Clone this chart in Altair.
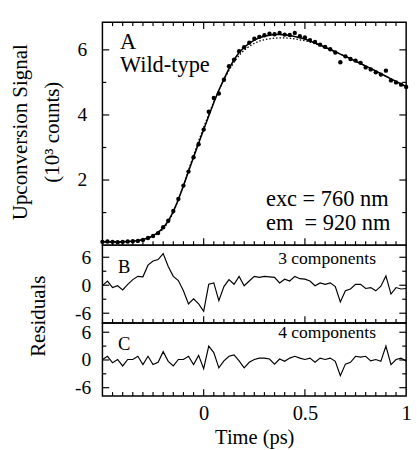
import altair as alt
import pandas as pd

FONT = "Liberation Serif, Times New Roman, Times, serif"

# ---------------- data ----------------
time_ps = [-0.5, -0.475, -0.45, -0.425, -0.4, -0.375, -0.35, -0.325, -0.3, -0.275,
           -0.25, -0.225, -0.2, -0.175, -0.15, -0.125, -0.1, -0.075, -0.05, -0.025,
           0.0, 0.025, 0.05, 0.075, 0.1, 0.125, 0.15, 0.175, 0.2, 0.225,
           0.25, 0.275, 0.3, 0.325, 0.35, 0.375, 0.4, 0.425, 0.45, 0.475,
           0.5, 0.525, 0.55, 0.575, 0.6, 0.625, 0.65, 0.675, 0.7, 0.725,
           0.75, 0.775, 0.8, 0.825, 0.85, 0.875, 0.9, 0.925, 0.95, 0.975, 1.0]

signal = [0.10, 0.11, 0.10, 0.09, 0.10, 0.11, 0.12, 0.13, 0.16, 0.22,
          0.28, 0.37, 0.55, 0.75, 1.05, 1.42, 1.83, 2.26, 2.70, 3.10,
          3.55, 4.10, 4.52, 4.66, 5.08, 5.50, 5.70, 5.96, 6.08, 6.22,
          6.34, 6.40, 6.45, 6.50, 6.48, 6.52, 6.47, 6.46, 6.52, 6.42,
          6.38, 6.30, 6.24, 6.16, 6.09, 6.02, 5.92, 5.62, 5.80, 5.72,
          5.67, 5.60, 5.46, 5.40, 5.31, 5.24, 5.36, 5.06, 5.00, 4.93, 4.86]

fit_4comp = [0.10, 0.10, 0.10, 0.10, 0.10, 0.11, 0.12, 0.14, 0.17, 0.22,
             0.29, 0.39, 0.53, 0.74, 1.03, 1.40, 1.82, 2.26, 2.70, 3.13,
             3.55, 3.97, 4.38, 4.76, 5.10, 5.42, 5.70, 5.92, 6.08, 6.20,
             6.30, 6.37, 6.42, 6.45, 6.47, 6.47, 6.46, 6.44, 6.41, 6.37,
             6.33, 6.27, 6.21, 6.15, 6.08, 6.01, 5.94, 5.87, 5.80, 5.73,
             5.65, 5.58, 5.50, 5.43, 5.35, 5.27, 5.19, 5.11, 5.03, 4.95, 4.87]

fit_3comp = [0.10, 0.10, 0.10, 0.10, 0.10, 0.11, 0.12, 0.13, 0.16, 0.20,
             0.27, 0.36, 0.49, 0.70, 1.00, 1.38, 1.83, 2.30, 2.76, 3.20,
             3.62, 4.02, 4.40, 4.76, 5.08, 5.37, 5.62, 5.83, 5.99, 6.11,
             6.20, 6.27, 6.31, 6.34, 6.36, 6.37, 6.37, 6.36, 6.34, 6.31,
             6.28, 6.24, 6.19, 6.13, 6.07, 6.01, 5.94, 5.87, 5.80, 5.73,
             5.65, 5.58, 5.50, 5.43, 5.35, 5.27, 5.19, 5.11, 5.03, 4.95, 4.87]

resid_3comp = [-0.1, 0.9, -0.5, -0.1, -1.0, 0.2, 1.2, 1.9, 1.8, 4.3,
               5.2, 5.5, 6.8, 4.0, 1.9, 1.0, -1.2, -4.0, -2.9, -4.0,
               -5.6, 0.2, 0.5, -3.3, -0.3, 1.2, 0.2, 1.9, -0.1, 0.9,
               1.9, 1.7, 1.9, 1.8, 1.7, 0.5, 1.3, 0.9, 1.9, 1.4,
               1.3, 0.9, -0.1, 0.5, 0.2, 0.5, -0.3, -3.6, -1.2, -0.8,
               0.2, 0.2, -0.7, -0.5, -1.2, -0.2, 2.0, -1.9, -0.5, -0.8, -0.7]

resid_4comp = [0.1, 0.8, -0.6, 0.1, -1.3, 0.1, 0.1, 0.8, -1.0, 0.8,
               -1.0, -0.5, 1.8, -0.3, -1.3, 0.1, 0.1, 0.8, -1.0, 1.0,
               -1.9, 3.0, 1.6, -1.7, -0.2, 0.8, 1.1, -0.2, -1.7, -0.5,
               0.1, 0.4, 0.4, 0.2, -0.9, 0.2, -0.3, 0.4, 0.8, 0.4,
               0.1, 0.4, -0.5, 0.4, 0.1, 0.4, -0.3, -3.4, -0.9, -0.5,
               0.8, 0.6, 0.8, -0.2, 0.1, -0.3, 3.0, -1.0, 0.1, 0.4, -0.3]

# axis tick values / labels
x_label_values = [0, 0.5, 1]
x_major_ticks = [0.0, 0.5]
x_minor_ticks = [-0.45, -0.4, -0.35, -0.3, -0.25, -0.2, -0.15, -0.1, -0.05,
                 0.05, 0.1, 0.15, 0.2, 0.25, 0.3, 0.35, 0.4, 0.45,
                 0.55, 0.6, 0.65, 0.7, 0.75, 0.8, 0.85, 0.9, 0.95]
a_major_y = [2, 4, 6]
a_minor_y = [1, 3, 5]
res_major_y = [-6, 0, 6]
res_minor_y = [-3, 3]

df = pd.DataFrame({"t": time_ps, "signal": signal, "fit4": fit_4comp,
                   "fit3": fit_3comp, "r3": resid_3comp, "r4": resid_4comp})

# ---------------- layout ----------------
W = 312
H_A, H_B, H_C = 229, 80, 75
TICK_MINOR, TICK_MAJOR = 4, 7

xs = alt.Scale(domain=[-0.5, 1.0], nice=False, zero=False)
ys_a = alt.Scale(domain=[0, 6.85], nice=False, zero=False)
ys_b = alt.Scale(domain=[-8.1, 8.6], nice=False, zero=False)
ys_c = alt.Scale(domain=[-7.8, 8.0], nice=False, zero=False)


def y_axis(values, pad, hyphen=False):
    kw = dict(values=values, ticks=False, tickSize=0, domain=False, grid=False,
              labelPadding=pad, labelFontSize=20, labelFont=FONT,
              labelColor="black", title=None)
    if hyphen:
        kw["labelExpr"] = "datum.value < 0 ? '-' + (-datum.value) : '' + datum.value"
    return alt.Axis(**kw)


ax_y_a = y_axis(a_major_y, 16)
ax_y_b = y_axis(res_major_y, 12, hyphen=True)
ax_y_c = y_axis(res_major_y, 12, hyphen=True)
ax_x_c = alt.Axis(values=x_label_values, format="~g", ticks=False, tickSize=0,
                  domain=False, grid=False, labelFlush=False, labelPadding=7,
                  labelFontSize=21, labelFont=FONT, labelColor="black",
                  title="Time (ps)", titleFont=FONT, titleFontSize=21,
                  titleFontWeight="normal", titleColor="black", titlePadding=4)


def x_tick_layers(h, x_ax, top=False):
    out = []
    for vals, ln in ((x_minor_ticks, TICK_MINOR), (x_major_ticks, TICK_MAJOR)):
        d = pd.DataFrame({"t": vals})
        y0, y1 = (0, ln) if top else (h, h - ln)
        out.append(alt.Chart(d).mark_rule(color="black", strokeWidth=1.2).encode(
            x=alt.X("t:Q", scale=xs, axis=x_ax),
            y=alt.value(y0), y2=alt.value(y1)))
    return out


def y_tick_layers(minor, major, ys, y_ax, field):
    out = []
    for vals, ln in ((minor, TICK_MINOR), (major, TICK_MAJOR)):
        d = pd.DataFrame({field: vals})
        for x0, x1 in ((0, ln), (W, W - ln)):
            out.append(alt.Chart(d).mark_rule(color="black", strokeWidth=1.2).encode(
                x=alt.value(x0), x2=alt.value(x1),
                y=alt.Y(f"{field}:Q", scale=ys, axis=y_ax)))
    return out


def label(text, x, y, size, align="left", angle=0, baseline="alphabetic"):
    return alt.Chart(pd.DataFrame({"s": [text]})).mark_text(
        font=FONT, fontSize=size, align=align, baseline=baseline,
        angle=angle, color="black").encode(
        text="s:N", x=alt.value(x), y=alt.value(y))


base = alt.Chart(df)

# ---- panel A ----
fit3_line = base.mark_line(color="black", strokeWidth=1.3, strokeDash=[1.5, 2]).encode(
    x=alt.X("t:Q", scale=xs, axis=None),
    y=alt.Y("fit3:Q", scale=ys_a, axis=ax_y_a))
fit4_line = base.mark_line(color="black", strokeWidth=1.6).encode(
    x=alt.X("t:Q", scale=xs, axis=None),
    y=alt.Y("fit4:Q", scale=ys_a, axis=ax_y_a))
pts = base.mark_circle(color="black", size=20, opacity=1).encode(
    x=alt.X("t:Q", scale=xs, axis=None),
    y=alt.Y("signal:Q", scale=ys_a, axis=ax_y_a))

panel_a = alt.layer(
    fit3_line, fit4_line, pts,
    *x_tick_layers(H_A, None, top=True), *x_tick_layers(H_A, None),
    *y_tick_layers(a_minor_y, a_major_y, ys_a, ax_y_a, "signal"),
    label("A", 18, 28, 23),
    label("Wild-type", 18, 51.5, 23),
    label("exc = 760 nm", 168, 188.5, 23),
    label("em\u00a0 = 920 nm", 168, 213, 23),
    label("Upconversion Signal", -83, 113, 21.5, align="center", angle=270, baseline="middle"),
    label("(10\u00b3 counts)", -51, 113, 21.5, align="center", angle=270, baseline="middle"),
).properties(width=W, height=H_A)

# ---- panel B ----
b_line = base.mark_line(color="black", strokeWidth=1.2).encode(
    x=alt.X("t:Q", scale=xs, axis=None),
    y=alt.Y("r3:Q", scale=ys_b, axis=ax_y_b))
panel_b = alt.layer(
    b_line, *x_tick_layers(H_B, None),
    *y_tick_layers(res_minor_y, res_major_y, ys_b, ax_y_b, "r3"),
    label("B", 16, 29, 19),
    label("3 components", 281, 19, 18, align="right"),
    label("Residuals", -64.5, 73, 21.5, align="center", angle=270, baseline="middle"),
).properties(width=W, height=H_B)

# ---- panel C ----
c_line = base.mark_line(color="black", strokeWidth=1.2).encode(
    x=alt.X("t:Q", scale=xs, axis=ax_x_c),
    y=alt.Y("r4:Q", scale=ys_c, axis=ax_y_c))
panel_c = alt.layer(
    c_line, *x_tick_layers(H_C, ax_x_c),
    *y_tick_layers(res_minor_y, res_major_y, ys_c, ax_y_c, "r4"),
    label("C", 16, 27.5, 19),
    label("4 components", 281, 15.5, 18, align="right"),
).properties(width=W, height=H_C)

chart = alt.vconcat(panel_a, panel_b, panel_c, spacing=0, bounds="flush").properties(
    padding={"left": 2, "top": 6.5, "right": 0, "bottom": 0},
    background="white",
).configure_view(stroke="black", strokeWidth=1.5)

chart.save("out.html", embed_options={"renderer": "svg", "actions": False})
